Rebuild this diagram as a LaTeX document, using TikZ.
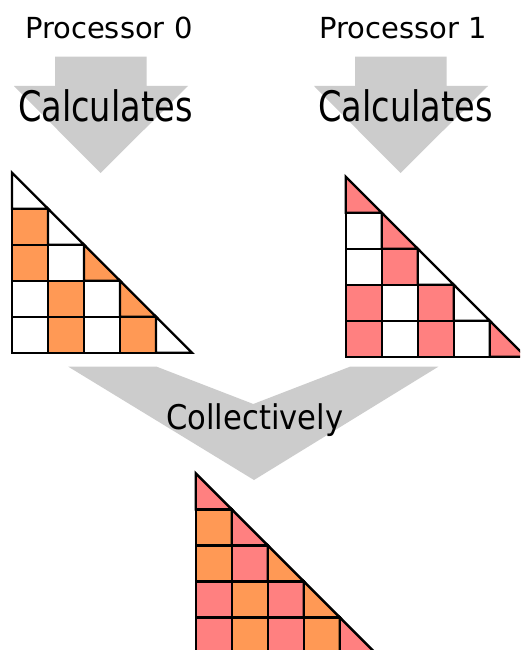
\documentclass[tikz,border=0pt]{standalone}
\usepackage{fontspec}
\setmainfont{DejaVu Sans}
\definecolor{orangeC}{HTML}{FF9955}
\definecolor{pinkC}{HTML}{FF8080}
\definecolor{arrowC}{HTML}{CCCCCC}
\tikzset{
  cellbox/.style={draw=black, line width=2.4pt, line join=miter},
  bigarrow/.style={fill=arrowC, draw=none},
  proclabel/.style={anchor=base, inner sep=0pt, font=\fontsize{29}{34}\selectfont},
  calclabel/.style={anchor=base, inner sep=0pt, font=\fontsize{42}{48}\selectfont},
  colllabel/.style={anchor=base, inner sep=0pt, font=\fontsize{34}{40}\selectfont},
}
% \trigrid{x0}{y0}{list r/c/colour}
\newcommand{\trigrid}[3]{%
  \foreach \r/\c/\col in {#3}{%
    \ifnum\c<\r
      \filldraw[cellbox, fill=\col] ({#1+\c*36},{#2+\r*36}) rectangle ++(36,36);
    \else
      \filldraw[cellbox, fill=\col] ({#1+\c*36},{#2+\r*36}) -- ++(0,36) -- ++(36,0) -- cycle;
    \fi
  }%
}
\begin{document}
\begin{tikzpicture}[x=1pt, y=-1pt]
\useasboundingbox (0,0) rectangle (520,650);
\clip (0,0) rectangle (520,650);
\fill[white] (0,0) rectangle (520,650);

% top arrows
\fill[bigarrow] (55,56.7) -- (146.7,56.7) -- (146.7,86) -- (188,86) -- (100.5,173) -- (14,86) -- (55,86) -- cycle;
\fill[bigarrow] (355,56.7) -- (446.7,56.7) -- (446.7,86) -- (488,86) -- (400.5,173) -- (314,86) -- (355,86) -- cycle;

% collecting arrow
\fill[bigarrow] (68.3,366.7) -- (156.7,366.7) -- (253.3,404) -- (350,366.7) -- (438.3,366.7) -- (254,480) -- cycle;

% labels
\node[proclabel] (p0) at (108.8,38.3) {Processor 0};
\node[proclabel] (p1) at (403,38.3) {Processor 1};
\node[calclabel] (c0) at (105.3,121.7) {\scalebox{0.8}[1]{Calculates}};
\node[calclabel] (c1) at (405.5,121.7) {\scalebox{0.8}[1]{Calculates}};
\node[colllabel] (col) at (254.7,429.3) {\scalebox{0.9}[1]{Collectively}};

% left grid (processor 0)
\trigrid{12}{172.7}{0/0/white,
  1/0/orangeC,1/1/white,
  2/0/orangeC,2/1/white,2/2/orangeC,
  3/0/white,3/1/orangeC,3/2/white,3/3/orangeC,
  4/0/white,4/1/orangeC,4/2/white,4/3/orangeC,4/4/white}

% right grid (processor 1)
\trigrid{345.7}{176.7}{0/0/pinkC,
  1/0/white,1/1/pinkC,
  2/0/white,2/1/pinkC,2/2/white,
  3/0/pinkC,3/1/white,3/2/pinkC,3/3/white,
  4/0/pinkC,4/1/white,4/2/pinkC,4/3/white,4/4/pinkC}

% combined grid
\trigrid{195.7}{473.3}{0/0/pinkC,
  1/0/orangeC,1/1/pinkC,
  2/0/orangeC,2/1/pinkC,2/2/orangeC,
  3/0/pinkC,3/1/orangeC,3/2/pinkC,3/3/orangeC,
  4/0/pinkC,4/1/orangeC,4/2/pinkC,4/3/orangeC,4/4/pinkC}
\end{tikzpicture}
\end{document}
